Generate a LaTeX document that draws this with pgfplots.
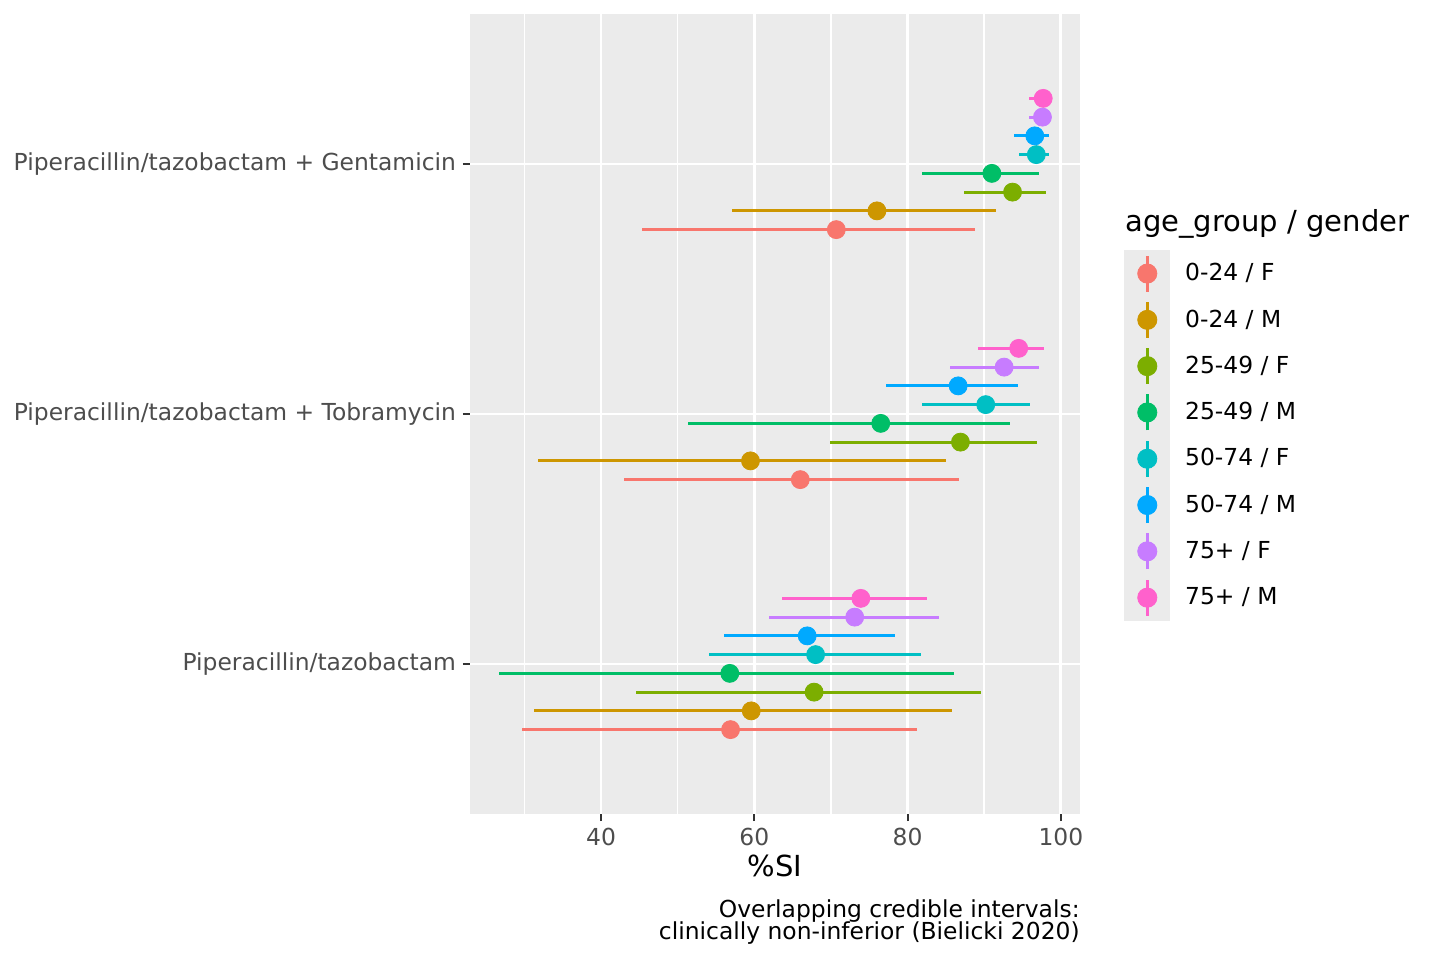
\documentclass[border=0pt]{standalone}
\usepackage{pgfplots}
\usepackage{pgfplotstable}
\pgfplotsset{compat=1.18}
\usepackage{fontspec}
\setmainfont{DejaVu Sans}
\definecolor{panelbg}{HTML}{EBEBEB}
\definecolor{grey20}{HTML}{333333}
\definecolor{grey30}{HTML}{4D4D4D}
\definecolor{c0}{HTML}{F8766D}
\definecolor{c1}{HTML}{CD9600}
\definecolor{c2}{HTML}{7CAE00}
\definecolor{c3}{HTML}{00BE67}
\definecolor{c4}{HTML}{00BFC4}
\definecolor{c5}{HTML}{00A9FF}
\definecolor{c6}{HTML}{C77CFF}
\definecolor{c7}{HTML}{FF61CC}
% g: 1 = Piperacillin/tazobactam, 2 = + Tobramycin, 3 = + Gentamicin
\pgfplotstableread{
g v lo hi
1 56.9 29.7 81.2
2 66.0 43.0 86.7
3 70.7 45.3 88.8
}\tabA
\pgfplotstableread{
g v lo hi
1 59.6 31.3 85.8
2 59.5 31.8 85.0
3 76.0 57.1 91.6
}\tabB
\pgfplotstableread{
g v lo hi
1 67.8 44.6 89.6
2 86.9 69.9 96.9
3 93.7 87.3 98.0
}\tabC
\pgfplotstableread{
g v lo hi
1 56.8 26.7 86.0
2 76.5 51.4 93.4
3 91.0 81.9 97.1
}\tabD
\pgfplotstableread{
g v lo hi
1 68.0 54.1 81.7
2 90.2 81.9 96.0
3 96.8 94.5 98.4
}\tabE
\pgfplotstableread{
g v lo hi
1 66.9 56.0 78.4
2 86.6 77.2 94.4
3 96.6 93.9 98.4
}\tabF
\pgfplotstableread{
g v lo hi
1 73.1 61.9 84.1
2 92.6 85.6 97.1
3 97.6 95.8 98.6
}\tabG
\pgfplotstableread{
g v lo hi
1 73.9 63.6 82.5
2 94.5 89.2 97.8
3 97.7 95.9 98.7
}\tabH
\pgfplotsset{
  pr/.style={only marks, mark=*, mark size=4.5pt, color=#1,
    error bars/.cd, x dir=both, x explicit, error mark=none,
    error bar style={line width=1.5pt, color=#1}},
}
\newcommand{\prplot}[3]{%
  \addplot[pr=#1] table[x=v, y expr=\thisrow{g}+#2,
    x error minus expr=\thisrow{v}-\thisrow{lo},
    x error plus expr=\thisrow{hi}-\thisrow{v}] {#3};}
\begin{document}
\begin{tikzpicture}
\fill[white] (0,0) rectangle (720pt,480pt);
\useasboundingbox (0,0) rectangle (720pt,480pt);
\begin{axis}[
  at={(235pt,73pt)}, anchor=south west,
  scale only axis, width=305pt, height=400pt,
  xmin=22.9, xmax=102.5, ymin=0.4, ymax=3.6,
  axis background/.style={fill=panelbg},
  axis line style={draw=none},
  xtick={40,60,80,100}, minor xtick={30,50,70,90},
  ytick={1,2,3},
  yticklabels={Piperacillin/tazobactam, Piperacillin/tazobactam + Tobramycin, Piperacillin/tazobactam + Gentamicin},
  xmajorgrids, xminorgrids, ymajorgrids,
  major grid style={white, line width=1.4pt},
  minor grid style={white, line width=0.75pt},
  tick align=outside, xtick pos=left, ytick pos=left,
  major tick length=3.5pt, minor tick length=0pt,
  tick style={color=grey20, line width=1pt},
  ticklabel style={font=\fontsize{11.7}{14}\selectfont, text=grey30},
  /pgf/number format/assume math mode=true,
  xlabel={\%SI},
  xlabel style={font=\fontsize{14.5}{17}\selectfont, at={(axis description cs:0.5,-0.0775)}, anchor=base},
  legend style={at={(1.0721,0.705)}, anchor=north west, draw=none, fill=none,
    inner xsep=0pt, inner ysep=0pt, row sep=0pt, column sep=7.5pt,
    font=\fontsize{11.7}{14}\selectfont,
    nodes={inner sep=0pt}, cells={anchor=west}},
  legend image code/.code={
    \fill[panelbg] (-11.25pt,-11.375pt) rectangle (11.25pt,11.375pt);
    \draw[line width=1.35pt] (0pt,-9pt) -- (0pt,9pt);
    \fill (0pt,0pt) circle (4.8pt);
  },
]
\prplot{c0}{-0.2625}{\tabA}
\addlegendentry{0-24 / F}
\prplot{c1}{-0.1875}{\tabB}
\addlegendentry{0-24 / M}
\prplot{c2}{-0.1125}{\tabC}
\addlegendentry{25-49 / F}
\prplot{c3}{-0.0375}{\tabD}
\addlegendentry{25-49 / M}
\prplot{c4}{0.0375}{\tabE}
\addlegendentry{50-74 / F}
\prplot{c5}{0.1125}{\tabF}
\addlegendentry{50-74 / M}
\prplot{c6}{0.1875}{\tabG}
\addlegendentry{75+ / F}
\prplot{c7}{0.2625}{\tabH}
\addlegendentry{75+ / M}
\end{axis}
\node[anchor=base west, inner sep=0pt, font=\fontsize{14.5}{17}\selectfont] at (562.5pt,364pt) {age\_group / gender};
\node[anchor=base east, inner sep=0pt, font=\fontsize{11.7}{14}\selectfont] at (540pt,21.5pt) {Overlapping credible intervals:};
\node[anchor=base east, inner sep=0pt, font=\fontsize{11.7}{14}\selectfont] at (540pt,10.25pt) {clinically non-inferior (Bielicki 2020)};
\end{tikzpicture}
\end{document}
